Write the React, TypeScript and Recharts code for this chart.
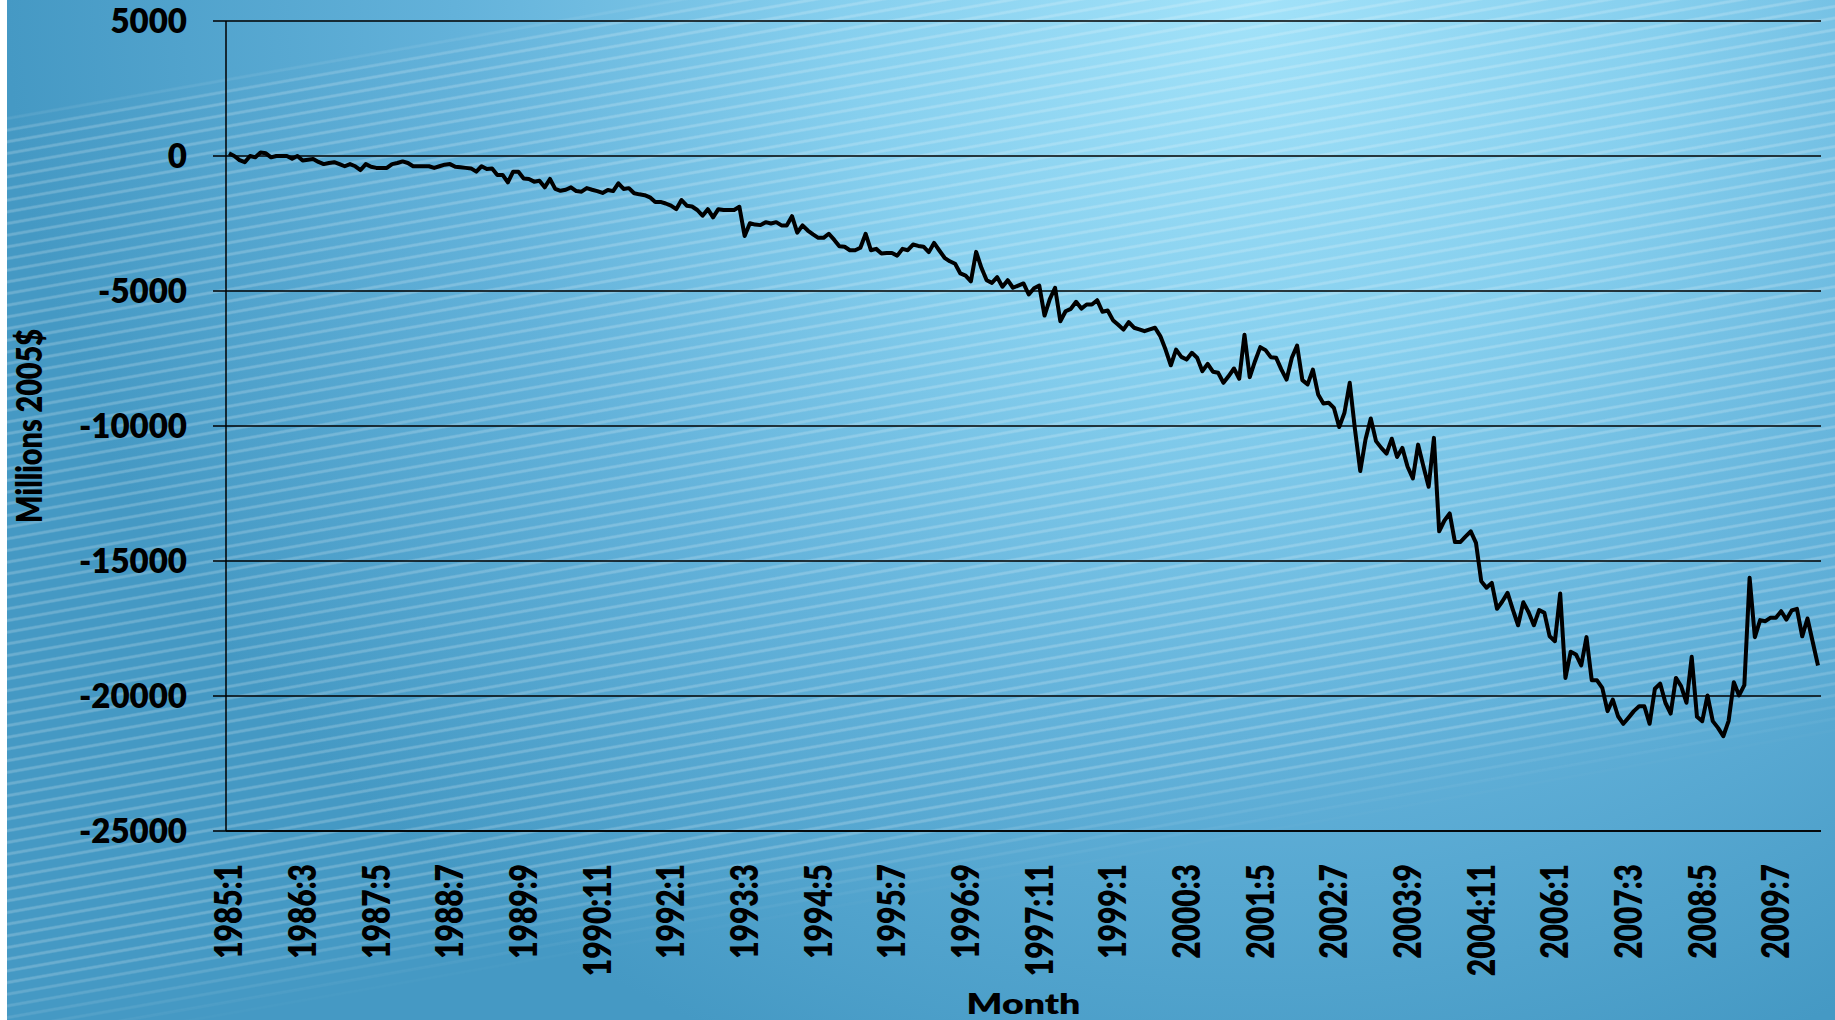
import {LineChart, Line, XAxis, YAxis, CartesianGrid, Label} from 'recharts';

// monthly values, millions of 2005 dollars, from 1985:1
const netPosition: number[] = [
    100, 0, -150, -230, 0, -50, 130, 100, -50, 0, 0, 0, // 1985
    -100, 0, -170, -140, -110, -220, -300, -260, -230, -300, -380, -300, // 1986
    -380, -520, -300, -400, -440, -440, -440, -300, -260, -200, -260, -380, // 1987
    -380, -380, -380, -440, -380, -320, -300, -400, -420, -440, -460, -580, // 1988
    -380, -480, -460, -700, -700, -980, -580, -580, -830, -850, -950, -920, // 1989
    -1160, -850, -1220, -1290, -1250, -1160, -1300, -1320, -1190, -1250, -1300, -1370, // 1990
    -1260, -1300, -1010, -1220, -1190, -1380, -1420, -1450, -1530, -1700, -1700, -1760, // 1991
    -1840, -1970, -1630, -1840, -1870, -2000, -2210, -1970, -2270, -1970, -2000, -2000, // 1992
    -2000, -1880, -2960, -2490, -2540, -2560, -2450, -2500, -2450, -2570, -2570, -2230, // 1993
    -2840, -2570, -2760, -2900, -3030, -3030, -2880, -3100, -3340, -3360, -3490, -3490, // 1994
    -3400, -2880, -3490, -3440, -3610, -3590, -3590, -3690, -3440, -3490, -3280, -3330, // 1995
    -3360, -3560, -3220, -3500, -3770, -3900, -3990, -4350, -4430, -4640, -3550, -4140, // 1996
    -4600, -4700, -4490, -4840, -4600, -4880, -4800, -4720, -5130, -4900, -4800, -5910, // 1997
    -5300, -4880, -6120, -5750, -5660, -5400, -5650, -5500, -5500, -5340, -5770, -5720, // 1998
    -6080, -6250, -6430, -6150, -6360, -6420, -6490, -6420, -6360, -6670, -7170, -7750, // 1999
    -7170, -7440, -7540, -7290, -7470, -7970, -7700, -7990, -8030, -8400, -8150, -7870, // 2000
    -8250, -6620, -8190, -7600, -7080, -7190, -7450, -7470, -7900, -8280, -7470, -7020, // 2001
    -8300, -8460, -7910, -8830, -9170, -9140, -9330, -10040, -9510, -8400, -10130, -11670, // 2002
    -10500, -9720, -10560, -10810, -11020, -10470, -11150, -10810, -11510, -11940, -10690, -11490, // 2003
    -12250, -10440, -13900, -13500, -13240, -14300, -14300, -14100, -13900, -14330, -15750, -15990, // 2004
    -15810, -16770, -16500, -16180, -16800, -17380, -16530, -16900, -17380, -16820, -16920, -17790, // 2005
    -17970, -16200, -19330, -18360, -18460, -18870, -17820, -19420, -19420, -19700, -20560, -20130, // 2006
    -20750, -21030, -20800, -20560, -20380, -20380, -21030, -19730, -19540, -20250, -20650, -19330, // 2007
    -19640, -20250, -18550, -20770, -20930, -19980, -20930, -21180, -21490, -20930, -19490, -19980, // 2008
    -19600, -15620, -17820, -17190, -17230, -17100, -17100, -16860, -17170, -16830, -16770, -17790, // 2009
    -17130, -18000, -18870, // 2010
];

const START_YEAR = 1985;
const months: string[] = netPosition.map((_, i) => `${START_YEAR + Math.floor(i / 12)}:${(i % 12) + 1}`);

const yTicks = [5000, 0, -5000, -10000, -15000, -20000, -25000];

const data = months.map((m, i) => ({month: m, value: netPosition[i]}));

const FONT = 'Lato, "Open Sans", sans-serif';

// the source picture is stretched sideways, so vertical text is squeezed along its length
function MonthTick({x, y, payload}: any) {
    return (
        <text transform={`translate(${x}, ${y}) rotate(-90) scale(0.81, 1)`} textAnchor="end" dy="0.36em"
              fontFamily={FONT} fontWeight={800} fontSize={37} fill="#000">
            {payload.value}
        </text>
    );
}

export default function App() {
    return (
        <div style={{position: 'absolute', left: 0, top: 0, width: 1835, height: 1020, background: '#fff', overflow: 'hidden'}}>
            <div style={{
                position: 'absolute', left: 7, top: 0, right: 0, bottom: 0,
                background: 'radial-gradient(ellipse 68% 112% at 68% 0%, #a2e2f9 0%, #86cfee 33%, #63b2da 64%, #4599c4 100%)',
            }}/>
            <div style={{
                position: 'absolute', left: 7, top: 0, right: 0, bottom: 0,
                background: 'repeating-linear-gradient(-10deg, rgba(255,255,255,0) 0px, rgba(255,255,255,0) 7px, rgba(255,255,255,0.2) 8.5px, rgba(255,255,255,0.2) 10px, rgba(255,255,255,0) 11.5px)',
                WebkitMaskImage: 'linear-gradient(-10deg, transparent 0%, transparent 21%, #000 27%, #000 90%, transparent 92%)',
                maskImage: 'linear-gradient(-10deg, transparent 0%, transparent 21%, #000 27%, #000 90%, transparent 92%)',
            }}/>
            <LineChart width={1835} height={1020} data={data}
                       margin={{top: 21, right: 14, left: 0, bottom: 0}}
                       style={{position: 'absolute', left: 0, top: 0}}>
                <CartesianGrid vertical={false} stroke="#000" strokeWidth={1.5} strokeOpacity={1}/>
                <XAxis dataKey="month" interval={13} height={189} tickSize={0} tickMargin={33}
                       padding={{left: 3, right: 3}} axisLine={{stroke: '#000', strokeWidth: 1.5}}
                       tickLine={false} tick={<MonthTick/>}>
                    <Label content={({viewBox}: any) => {
                        const cx = viewBox.x + viewBox.width / 2;
                        const by = viewBox.y + 183;
                        return (
                            <text transform={`translate(${cx}, ${by}) scale(1.29, 1)`} textAnchor="middle"
                                  fontFamily={FONT} fontWeight={800} fontSize={29} fill="#000">Month</text>
                        );
                    }}/>
                </XAxis>
                <YAxis domain={[-25000, 5000]} ticks={yTicks} width={226} tickSize={13} tickMargin={26}
                       axisLine={{stroke: '#000', strokeWidth: 1.5}} tickLine={{stroke: '#000', strokeWidth: 1.5}}
                       tick={{fill: '#000', fontFamily: FONT, fontWeight: 800, fontSize: 33}} interval={0}>
                    <Label content={({viewBox}: any) => {
                        const cx = viewBox.x + 29;
                        const cy = viewBox.y + viewBox.height / 2;
                        return (
                            <text transform={`translate(${cx}, ${cy}) rotate(-90) scale(0.8, 1)`} textAnchor="middle" dy="0.36em"
                                  fontFamily={FONT} fontWeight={800} fontSize={36} fill="#000">Millions 2005$</text>
                        );
                    }}/>
                </YAxis>
                <Line type="linear" dataKey="value" stroke="#000" strokeWidth={4} dot={false}
                      strokeLinejoin="round" isAnimationActive={false}/>
            </LineChart>
        </div>
    );
}
